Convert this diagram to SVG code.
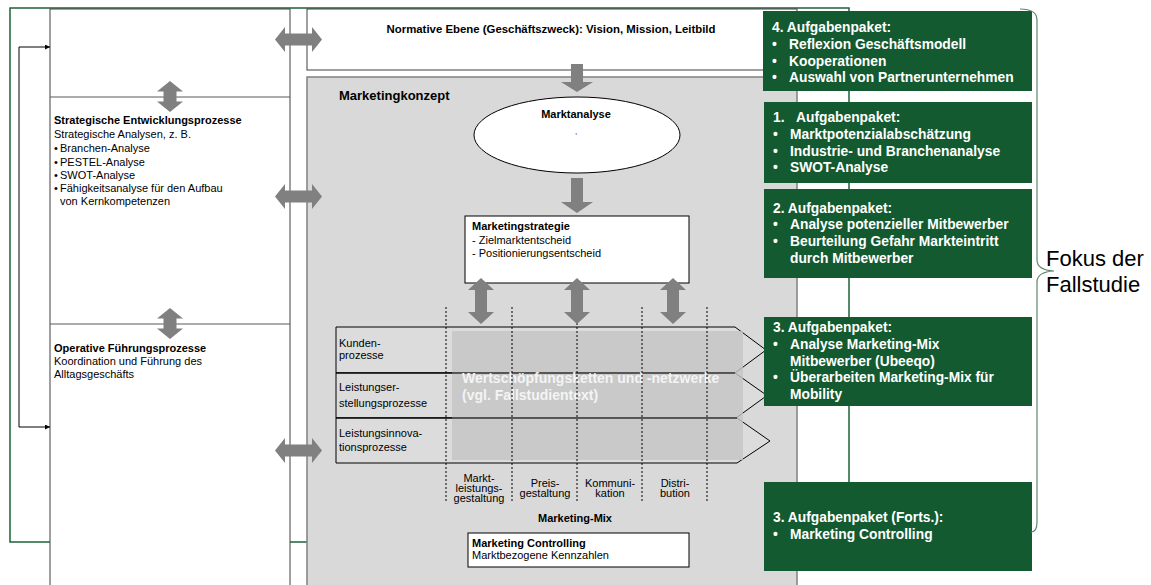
<svg xmlns="http://www.w3.org/2000/svg" xmlns:xlink="http://www.w3.org/1999/xlink" width="1151" height="585" viewBox="0 0 1151 585">
<style>
text{font-family:"Liberation Sans",Arial,sans-serif;}
.s{font-size:11px;fill:#000;}
.b{font-weight:bold;}
.g{font-size:13.8px;font-weight:bold;fill:#fff;}
.gb{fill:#135a30;}
.ar{fill:#808080;}
.dot{stroke:#000;stroke-width:1;stroke-dasharray:2,2;fill:none;}
.c{text-anchor:middle;}
</style>
<defs>
<path id="ha" d="M-23.5,0 L-13.5,-12.5 L-13.5,-6 L13.5,-6 L13.5,-12.5 L23.5,0 L13.5,12.5 L13.5,6 L-13.5,6 L-13.5,12.5 Z"/>
<path id="va" d="M0,-15.5 L13,-5 L6.5,-5 L6.5,5 L13,5 L0,15.5 L-13,5 L-6.5,5 L-6.5,-5 L-13,-5 Z"/>
<path id="vb" d="M0,-23 L13,-11 L6,-11 L6,11 L13,11 L0,23 L-13,11 L-6,11 L-6,-11 L-13,-11 Z"/>
<marker id="m" viewBox="0 0 6 6" refX="6" refY="3" markerWidth="5" markerHeight="5" orient="auto-start-reverse"><path d="M0,0 L6,3 L0,6 Z" fill="#000"/></marker>
</defs>
<rect width="1151" height="585" fill="#fff"/>
<g id="frame">
<rect x="10" y="8" width="839" height="534" fill="none" stroke="#1e6236" stroke-width="1.5"/>
</g>
<g id="left-column">
<rect x="50" y="9" width="240" height="590" fill="#fff" stroke="#404040" stroke-width="1"/>
<line x1="50" y1="97" x2="290" y2="97" stroke="#595959"/>
<line x1="50" y1="324" x2="290" y2="324" stroke="#595959"/>
</g>
<g id="strategische">
<text class="s b" x="54" y="124">Strategische Entwicklungsprozesse</text>
<text class="s" x="54" y="138">Strategische Analysen, z. B.</text>
<text class="s" x="54" y="152">•</text><text class="s" x="60" y="152">Branchen-Analyse</text>
<text class="s" x="54" y="166">•</text><text class="s" x="60" y="166">PESTEL-Analyse</text>
<text class="s" x="54" y="179">•</text><text class="s" x="60" y="179">SWOT-Analyse</text>
<text class="s" x="54" y="192">•</text><text class="s" x="60" y="192">Fähigkeitsanalyse für den Aufbau</text>
<text class="s" x="60" y="205">von Kernkompetenzen</text>
</g>
<g id="operative">
<text class="s b" x="54" y="352">Operative Führungsprozesse</text>
<text class="s" x="54" y="365">Koordination und Führung des</text>
<text class="s" x="54" y="378">Alltagsgeschäfts</text>
</g>
<g id="normative">
<rect x="307" y="9" width="490" height="61" fill="#fff" stroke="#404040"/>
<text class="s b c" x="551" y="33" style="font-size:11.4px">Normative Ebene (Geschäftszweck): Vision, Mission, Leitbild</text>
</g>
<g id="marketingkonzept">
<rect x="307" y="77" width="490" height="520" fill="#d9d9d9" stroke="#808080" stroke-width="1.5"/>
<text x="339" y="100" style="font-size:13px;font-weight:bold">Marketingkonzept</text>
</g>
<g id="marktanalyse">
<ellipse cx="577" cy="135" rx="103" ry="38" fill="#fff" stroke="#000"/>
<text class="s b c" x="576" y="118">Marktanalyse</text>
<text class="s c" x="576" y="134" style="font-size:8px">,</text>
</g>
<g id="marketingstrategie">
<rect x="465" y="216" width="224" height="67" fill="#fff" stroke="#000"/>
<text class="s b" x="472" y="230">Marketingstrategie</text>
<text class="s" x="472" y="244">- Zielmarktentscheid</text>
<text class="s" x="472" y="257">- Positionierungsentscheid</text>
</g>
<g id="prozesse">
<path d="M336,327 L735,327 L766,350 L735,373 L336,373 Z" fill="#dcdcdc" stroke="#000"/>
<path d="M336,373 L735,373 L767,395.5 L736,418 L336,418 Z" fill="#dcdcdc" stroke="#000"/>
<path d="M336,418 L737,418 L770,441 L737,463 L336,463 Z" fill="#dcdcdc" stroke="#000"/>
<rect x="452" y="331" width="291" height="129" fill="#c4c4c4" fill-opacity="0.8"/>
<line x1="336" y1="373" x2="735" y2="373" stroke="#000"/>
<line x1="336" y1="418" x2="737" y2="418" stroke="#000"/>
<text class="s" x="339" y="347">Kunden-</text>
<text class="s" x="339" y="359">prozesse</text>
<text class="s" x="339" y="391">Leistungser-</text>
<text class="s" x="339" y="407">stellungsprozesse</text>
<text class="s" x="339" y="437">Leistungsinnova-</text>
<text class="s" x="339" y="451">tionsprozesse</text>
<text x="462" y="383" style="font-size:14px;font-weight:bold;fill:#f4f4f4">Wertschöpfungsketten und -netzwerke</text>
<text x="462" y="400" style="font-size:14px;font-weight:bold;fill:#f4f4f4">(vgl. Fallstudientext)</text>
</g>
<g id="marketing-mix">
<line class="dot" x1="446" y1="307" x2="446" y2="503"/>
<line class="dot" x1="512" y1="307" x2="512" y2="503"/>
<line class="dot" x1="577" y1="307" x2="577" y2="503"/>
<line class="dot" x1="642" y1="307" x2="642" y2="503"/>
<line class="dot" x1="707" y1="307" x2="707" y2="503"/>
<text class="s c" x="479" y="482">Markt-</text>
<text class="s c" x="479" y="492">leistungs-</text>
<text class="s c" x="479" y="502">gestaltung</text>
<text class="s c" x="545" y="487">Preis-</text>
<text class="s c" x="545" y="497">gestaltung</text>
<text class="s c" x="610" y="487">Kommuni-</text>
<text class="s c" x="610" y="497">kation</text>
<text class="s c" x="675" y="487">Distri-</text>
<text class="s c" x="675" y="497">bution</text>
<text class="s b c" x="575" y="522">Marketing-Mix</text>
</g>
<g id="marketing-controlling">
<rect x="468" y="533" width="221" height="34" fill="#fff" stroke="#000"/>
<text class="s b" x="472" y="547">Marketing Controlling</text>
<text class="s" x="472" y="559">Marktbezogene Kennzahlen</text>
</g>
<g id="connectors">
<use href="#ha" class="ar" x="298.5" y="39.5"/>
<use href="#ha" class="ar" x="298.5" y="196.5"/>
<use href="#ha" class="ar" x="298.5" y="450.5"/>
<use href="#va" class="ar" x="170" y="96.5"/>
<use href="#va" class="ar" x="170" y="323.5"/>
<use href="#vb" class="ar" x="481" y="301"/>
<use href="#vb" class="ar" x="577" y="301"/>
<use href="#vb" class="ar" x="673" y="301"/>
<path class="ar" d="M571,64 L583,64 L583,82 L593,82 L577,92 L561,82 L571,82 Z"/>
<path class="ar" d="M571,178 L583,178 L583,202 L593,202 L577,213 L561,202 L571,202 Z"/>
<path d="M50,47 L19,47 L19,427 L50,427" fill="none" stroke="#000" stroke-width="1" marker-start="url(#m)" marker-end="url(#m)"/>
</g>
<g id="paket4">
<rect class="gb" x="763" y="11" width="269" height="80"/>
<text class="g" x="772" y="32">4. Aufgabenpaket:</text>
<text class="g" x="772" y="49">•</text><text class="g" x="789" y="49">Reflexion Geschäftsmodell</text>
<text class="g" x="772" y="66">•</text><text class="g" x="789" y="66">Kooperationen</text>
<text class="g" x="772" y="82">•</text><text class="g" x="789" y="82">Auswahl von Partnerunternehmen</text>
</g>
<g id="paket1">
<rect class="gb" x="764" y="102" width="268" height="81"/>
<text class="g" x="773" y="122">1.</text><text class="g" x="796" y="122">Aufgabenpaket:</text>
<text class="g" x="773" y="139">•</text><text class="g" x="790" y="139">Marktpotenzialabschätzung</text>
<text class="g" x="773" y="156">•</text><text class="g" x="790" y="156">Industrie- und Branchenanalyse</text>
<text class="g" x="773" y="172">•</text><text class="g" x="790" y="172">SWOT-Analyse</text>
</g>
<g id="paket2">
<rect class="gb" x="764" y="189" width="268" height="89"/>
<text class="g" x="773" y="213">2. Aufgabenpaket:</text>
<text class="g" x="773" y="229">•</text><text class="g" x="790" y="229">Analyse potenzieller Mitbewerber</text>
<text class="g" x="773" y="246">•</text><text class="g" x="790" y="246">Beurteilung Gefahr Markteintritt</text>
<text class="g" x="790" y="263">durch Mitbewerber</text>
</g>
<g id="paket3">
<rect class="gb" x="764" y="317" width="268" height="89"/>
<text class="g" x="773" y="332">3. Aufgabenpaket:</text>
<text class="g" x="773" y="349">•</text><text class="g" x="790" y="349">Analyse Marketing-Mix</text>
<text class="g" x="790" y="366">Mitbewerber (Ubeeqo)</text>
<text class="g" x="773" y="382">•</text><text class="g" x="790" y="382">Überarbeiten Marketing-Mix für</text>
<text class="g" x="790" y="399">Mobility</text>
</g>
<g id="paket3-forts">
<rect class="gb" x="764" y="482" width="268" height="89"/>
<text class="g" x="773" y="522">3. Aufgabenpaket (Forts.):</text>
<text class="g" x="773" y="539">•</text><text class="g" x="790" y="539">Marketing Controlling</text>
</g>
<g id="fokus">
<path d="M1020,9 Q1037,9 1037,20 L1037,260 Q1037,270 1054,271 Q1037,272 1037,282 L1037,522 Q1037,532 1031,532" fill="none" stroke="#5b8a69" stroke-width="1.2"/>
<text x="1046" y="266" style="font-size:22px">Fokus der</text>
<text x="1046" y="292" style="font-size:22px">Fallstudie</text>
</g>
</svg>
